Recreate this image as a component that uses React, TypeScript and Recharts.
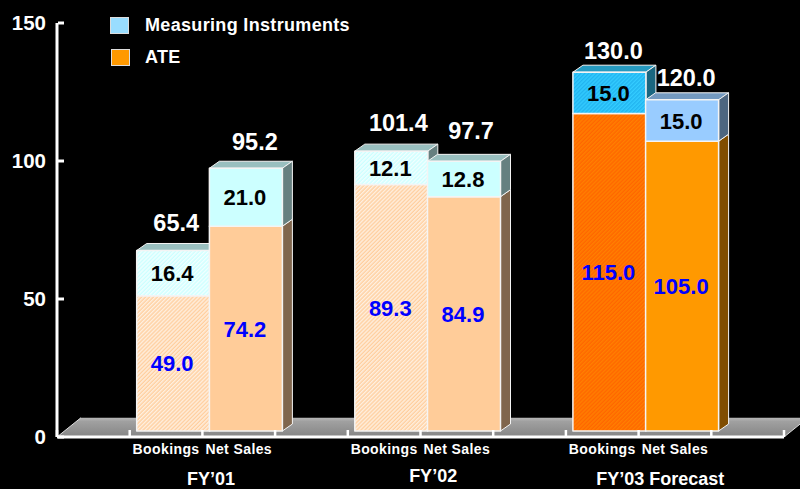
import React from "react";
import { BarChart, Bar, XAxis, YAxis, LabelList, Legend, ReferenceArea } from "recharts";

const ids = ["g0", "b01", "n01", "g1", "b02", "n02", "g2", "b03", "n03", "g3"];
const tickLabels = ["", "Bookings", "Net Sales", "", "Bookings", "Net Sales", "", "Bookings", "Net Sales", ""];
const bookingsAte = [null, 49.0, null, null, 89.3, null, null, 115.0, null, null];
const bookingsMi = [null, 16.4, null, null, 12.1, null, null, 15.0, null, null];
const netAte = [null, null, 74.2, null, null, 84.9, null, null, 105.0, null];
const netMi = [null, null, 21.0, null, null, 12.8, null, null, 15.0, null];
const totals = [null, 65.4, 95.2, null, 101.4, 97.7, null, 130.0, 120.0, null];
const yTicks = [0, 50, 100, 150];
const groupLabels: Record<string, string> = { b01: "FY\u201901", b02: "FY\u201902", b03: "FY\u201903 Forecast" };
const legendItems = [
  { name: "Measuring Instruments", color: "#99DDFF" },
  { name: "ATE", color: "#FF9900" },
];

const rows = ids.map((id, i) => ({
  id,
  label: tickLabels[i],
  bookingsAte: bookingsAte[i],
  bookingsMi: bookingsMi[i],
  netAte: netAte[i],
  netMi: netMi[i],
  total: totals[i],
}));

// Drawing constants (style only)
const FONT = '"Liberation Sans", Arial, sans-serif';
const OFF_X = 7;
const OFF_Y = -6;
const DEPTH_X = 10;
const DEPTH_Y = -7;
const groupStyle: Record<string, { dx: number; y: number }> = {
  b01: { dx: 45, y: 41 },
  b02: { dx: 49, y: 38 },
  b03: { dx: 58, y: 41 },
};
const totalNudge: Record<number, { dx: number; dy: number }> = {
  1: { dx: 3, dy: -27 },
  2: { dx: 9, dy: -26 },
  4: { dx: 7, dy: -28 },
  5: { dx: 7, dy: -30 },
  7: { dx: 4, dy: -21 },
  8: { dx: 4, dy: -22 },
};

const shade = (hex: string, f: number) => {
  const n = parseInt(hex.slice(1), 16);
  const c = [(n >> 16) & 255, (n >> 8) & 255, n & 255].map((v) => Math.round(v * f));
  return `rgb(${c[0]},${c[1]},${c[2]})`;
};

// per-row colour picker: early years pale, forecast saturated
const isForecast = (i: number) => i >= 7;

const makeBox = (kind: "bookingsAte" | "bookingsMi" | "netAte" | "netMi") => (props: any) => {
  const { x, y, width, height, index } = props;
  if (!height || height <= 0) return <g />;
  const fc = isForecast(index);
  const palette: Record<string, [string, string]> = {
    bookingsAte: fc ? ["url(#hOrange)", "#FF6E00"] : ["url(#hPeach)", "#FFCC99"],
    bookingsMi: fc ? ["url(#hBlue)", "#33CCFF"] : ["url(#hCyan)", "#CCFFFF"],
    netAte: fc ? ["#FF9900", "#FF9900"] : ["#FFCC99", "#FFCC99"],
    netMi: fc ? ["#99CCFF", "#99CCFF"] : ["#CCFFFF", "#CCFFFF"],
  };
  const [front, base] = palette[kind];
  const l = x + OFF_X;
  const t = y + OFF_Y;
  const r = l + width;
  const b = t + height;
  return (
    <g stroke="#F4F4F4" strokeWidth={1} strokeLinejoin="round">
      <polygon
        points={`${l},${t} ${l + DEPTH_X},${t + DEPTH_Y} ${r + DEPTH_X},${t + DEPTH_Y} ${r},${t}`}
        fill={shade(base, 0.75)}
      />
      <polygon
        points={`${r},${t} ${r + DEPTH_X},${t + DEPTH_Y} ${r + DEPTH_X},${b + DEPTH_Y} ${r},${b}`}
        fill={shade(base, 0.5)}
      />
      <rect x={l} y={t} width={width} height={height} fill={front} strokeWidth={1.5} />
    </g>
  );
};

const segLabel = (color: string) => (props: any) => {
  const { x, y, width, height, value } = props;
  if (value === null || value === undefined || !height) return <g />;
  return (
    <text
      x={x + OFF_X + width / 2 - 1}
      y={y + OFF_Y + height / 2 + 8}
      textAnchor="middle"
      fontFamily={FONT}
      fontWeight="bold"
      fontSize={22}
      fill={color}
    >
      {Number(value).toFixed(1)}
    </text>
  );
};

const totalLabel = (props: any) => {
  const { x, y, width, height, value, index } = props;
  if (value === null || value === undefined || !height) return <g />;
  const n = totalNudge[index] || { dx: 0, dy: 0 };
  return (
    <text
      x={x + OFF_X + width / 2 + n.dx}
      y={y + OFF_Y + n.dy + 8}
      textAnchor="middle"
      fontFamily={FONT}
      fontWeight="bold"
      fontSize={23.5}
      fill="#FFFFFF"
    >
      {Number(value).toFixed(1)}
    </text>
  );
};

const YTick = (props: any) => {
  const { x, y, payload } = props;
  return (
    <g>
      <line x1={x + 9} x2={x + 15} y1={y} y2={y} stroke="#fff" strokeWidth={3} />
      <text x={x - 3} y={y + 7} textAnchor="end" fontFamily={FONT} fontWeight="bold" fontSize={20.5} fill="#fff">
        {payload.value}
      </text>
    </g>
  );
};

const XTick = (props: any) => {
  const { x, y, payload, index } = props;
  const band = 72.7;
  const id = payload.value as string;
  const g = groupStyle[id];
  return (
    <g>
      <line x1={x - band / 2} x2={x - band / 2} y1={y - 15} y2={y - 8} stroke="#fff" strokeWidth={2.5} />
      {index === ids.length - 1 && (
        <line x1={x + band / 2} x2={x + band / 2} y1={y - 15} y2={y - 8} stroke="#fff" strokeWidth={2.5} />
      )}
      <text x={x} y={y + 9} textAnchor="middle" fontFamily={FONT} fontWeight="bold" fontSize={14} letterSpacing={0.4} fill="#fff">
        {tickLabels[index]}
      </text>
      {g && (
        <text x={x + g.dx} y={y + g.y - 1} textAnchor="middle" fontFamily={FONT} fontWeight="bold" fontSize={18} fill="#fff">
          {groupLabels[id]}
        </text>
      )}
    </g>
  );
};

const Floor = (props: any) => {
  const { x, y, width, height } = props;
  const bottom = y + height;
  return (
    <g>
      <polygon
        points={`${x},${bottom} ${x + 24},${y} ${x + width + 24},${y} ${x + width},${bottom}`}
        fill="url(#floor)"
      />
      <line x1={x} y1={bottom} x2={x + 24} y2={y} stroke="#DDDDDD" strokeWidth={1} />
      <line x1={x + width} y1={bottom} x2={x + width + 24} y2={y} stroke="#DDDDDD" strokeWidth={1} />
    </g>
  );
};

const LegendBox = () => (
  <div style={{ fontFamily: FONT, fontWeight: "bold", fontSize: 18, letterSpacing: 0.33, color: "#fff" }}>
    {legendItems.map((it, i) => (
      <div key={it.name} style={{ display: "flex", alignItems: "center", height: 32 }}>
        <span
          style={{
            display: "inline-block",
            width: 17,
            height: 15,
            background: it.color,
            border: "1px solid #DDD",
            marginRight: 16,
            marginLeft: i,
          }}
        />
        <span style={{ marginLeft: -i }}>{it.name}</span>
      </div>
    ))}
  </div>
);

export default function App() {
  return (
    <div style={{ position: "absolute", left: 0, top: 0, width: 800, height: 489, background: "#000", overflow: "hidden" }}>
      <BarChart
        width={800}
        height={489}
        data={rows}
        margin={{ top: 23, right: 16, bottom: 0, left: 0 }}
        barCategoryGap={0}
        barGap={0}
      >
        <defs>
          <pattern id="hPeach" width="2.8" height="2.8" patternUnits="userSpaceOnUse" patternTransform="rotate(45)">
            <rect width="2.8" height="2.8" fill="#FFCF9F" />
            <rect width="1.4" height="2.8" fill="#FFF0E0" />
          </pattern>
          <pattern id="hCyan" width="2.8" height="2.8" patternUnits="userSpaceOnUse" patternTransform="rotate(45)">
            <rect width="2.8" height="2.8" fill="#CCFFFF" />
            <rect width="1.4" height="2.8" fill="#F2FFFF" />
          </pattern>
          <pattern id="hOrange" width="2.8" height="2.8" patternUnits="userSpaceOnUse" patternTransform="rotate(45)">
            <rect width="2.8" height="2.8" fill="#FF6600" />
            <rect width="1.4" height="2.8" fill="#FF7F00" />
          </pattern>
          <pattern id="hBlue" width="2.8" height="2.8" patternUnits="userSpaceOnUse" patternTransform="rotate(45)">
            <rect width="2.8" height="2.8" fill="#33CCFF" />
            <rect width="1.4" height="2.8" fill="#22B4F0" />
          </pattern>
          <linearGradient id="floor" x1="0" y1="0" x2="0" y2="1">
            <stop offset="0" stopColor="#B8B8B8" />
            <stop offset="0.2" stopColor="#A0A0A0" />
            <stop offset="1" stopColor="#858585" />
          </linearGradient>
        </defs>
        <XAxis
          dataKey="id"
          interval={0}
          height={52}
          axisLine={{ stroke: "#fff", strokeWidth: 3 }}
          tickLine={false}
          tick={<XTick />}
        />
        <YAxis
          domain={[0, 150]}
          ticks={yTicks}
          width={57}
          axisLine={{ stroke: "#fff", strokeWidth: 3 }}
          tickLine={false}
          tick={<YTick />}
        />
        <ReferenceArea y1={0} y2={7} shape={<Floor />} ifOverflow="visible" />
        <Bar dataKey="bookingsAte" stackId="s" name="ATE" shape={makeBox("bookingsAte")} isAnimationActive={false}>
          <LabelList dataKey="bookingsAte" content={segLabel("#0000FF")} />
        </Bar>
        <Bar dataKey="bookingsMi" stackId="s" name="MI" shape={makeBox("bookingsMi")} isAnimationActive={false}>
          <LabelList dataKey="bookingsMi" content={segLabel("#000000")} />
          <LabelList dataKey="total" content={totalLabel} />
        </Bar>
        <Bar dataKey="netAte" stackId="s" name="ATE net" shape={makeBox("netAte")} isAnimationActive={false}>
          <LabelList dataKey="netAte" content={segLabel("#0000FF")} />
        </Bar>
        <Bar dataKey="netMi" stackId="s" name="MI net" shape={makeBox("netMi")} isAnimationActive={false}>
          <LabelList dataKey="netMi" content={segLabel("#000000")} />
          <LabelList dataKey="total" content={totalLabel} />
        </Bar>
        <Legend
          layout="vertical"
          verticalAlign="middle"
          align="center"
          content={<LegendBox />}
          wrapperStyle={{ left: 110, top: 9, width: 300, height: 64 }}
        />
      </BarChart>
    </div>
  );
}
